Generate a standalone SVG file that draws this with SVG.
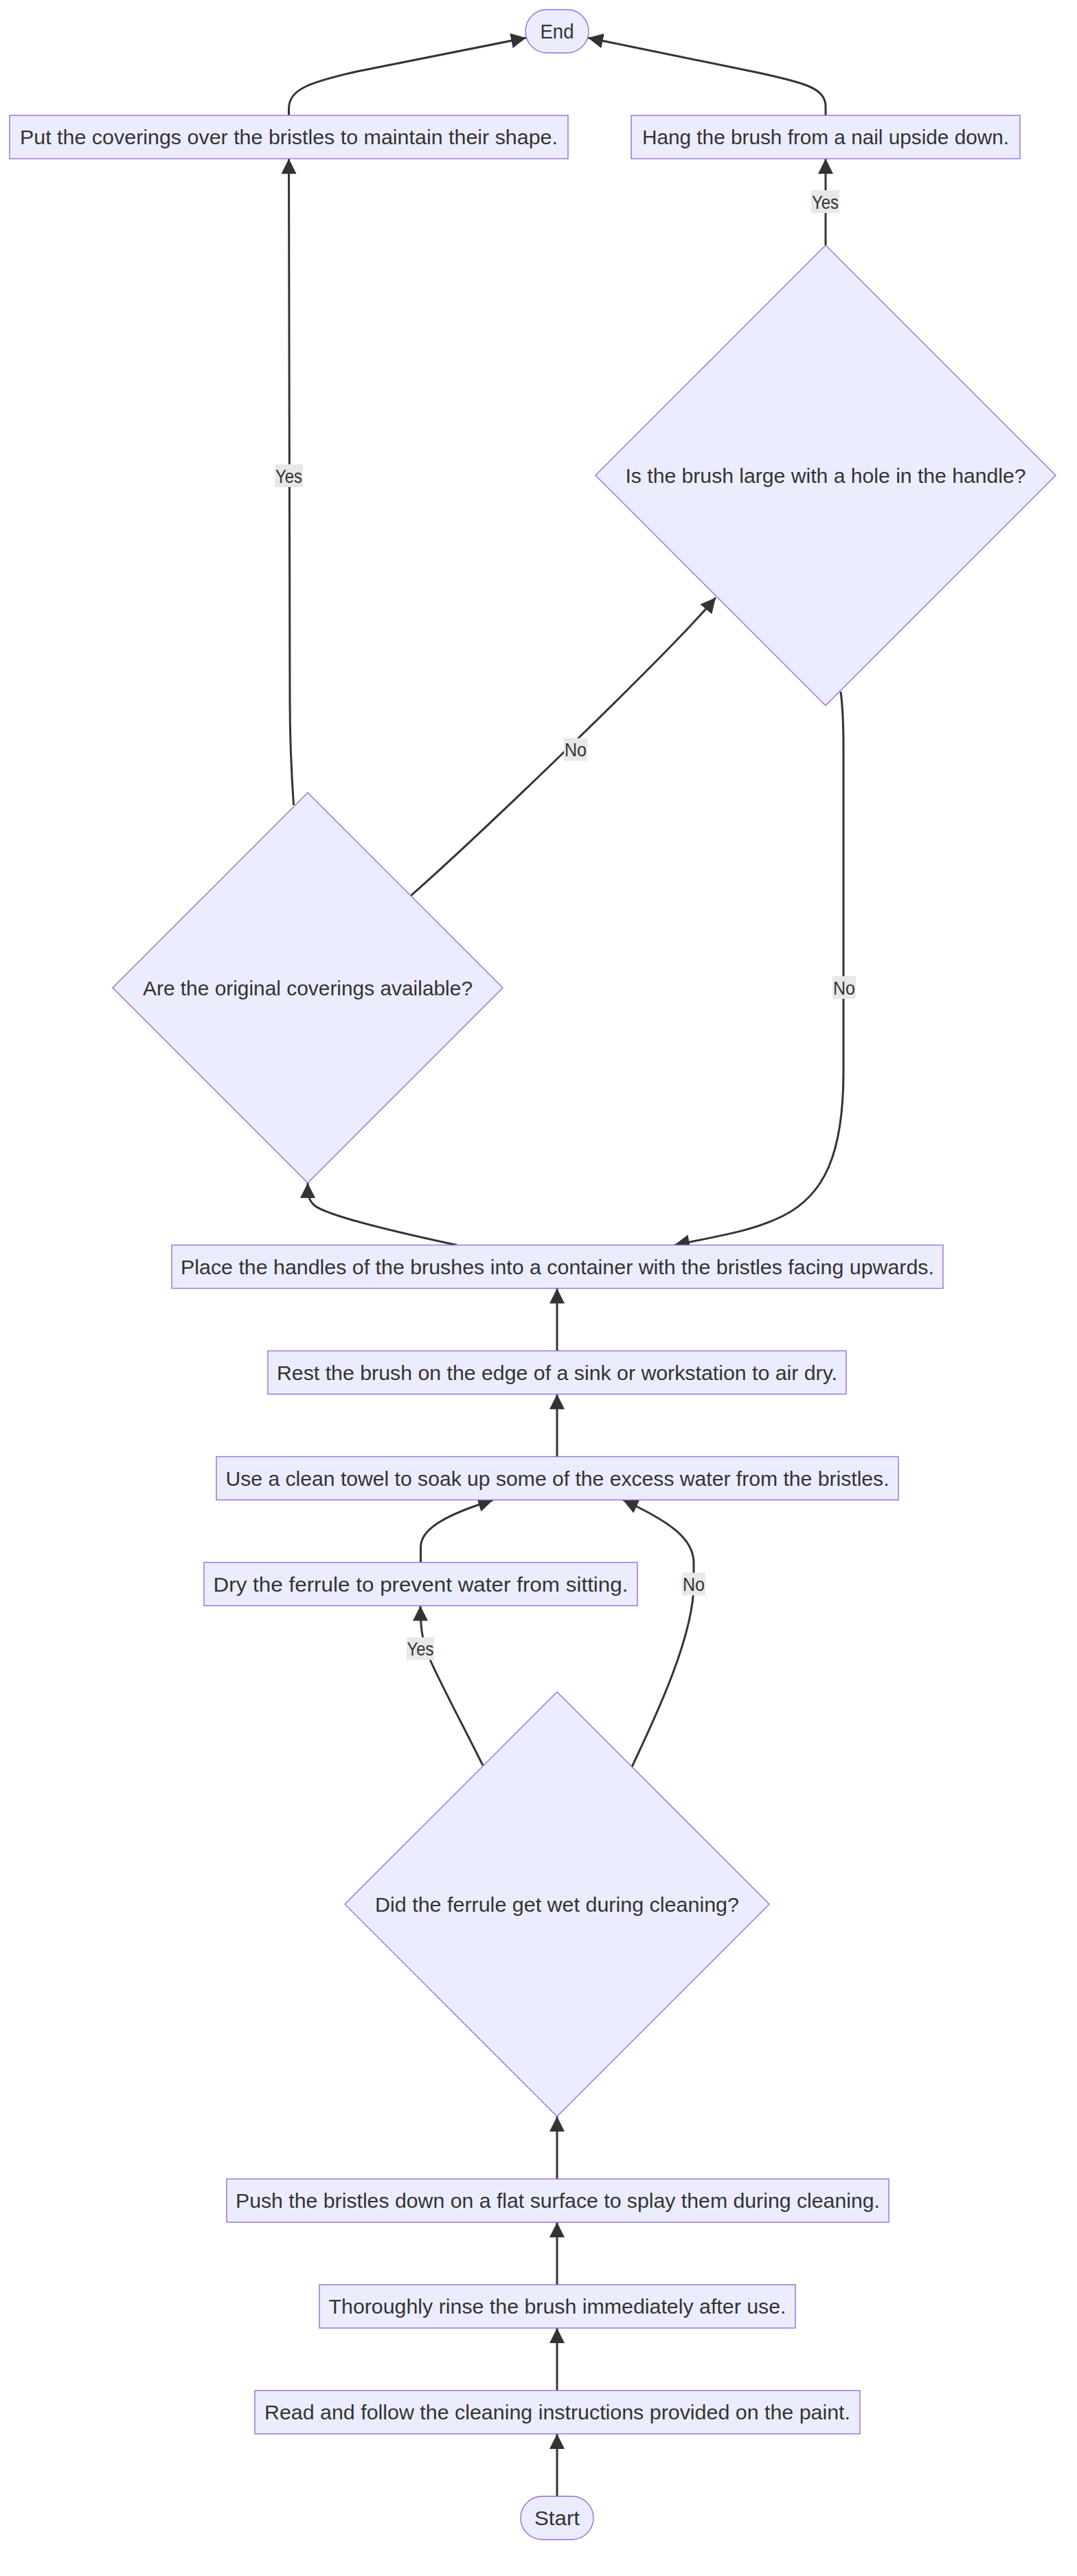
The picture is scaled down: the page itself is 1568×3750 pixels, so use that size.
<svg xmlns="http://www.w3.org/2000/svg" width="1568" height="3750" viewBox="0 0 1568 3750">
<defs>
<marker id="arrow" viewBox="0 0 10 10" refX="10" refY="5" markerUnits="userSpaceOnUse" markerWidth="22" markerHeight="22" orient="auto">
<path d="M0,0 L10,5 L0,10 z" fill="#333333"/>
</marker>
<style>
.node rect, .node polygon { fill: #ECECFF; stroke: #9370DB; stroke-width: 1.4; }
.node text { font-family: "Liberation Sans", Arial, sans-serif; font-size: 30px; fill: #333333; text-anchor: middle; }
.edge { fill: none; stroke: #333333; stroke-width: 3; marker-end: url(#arrow); }
.lbl rect { fill: #e8e8e8; }
.lbl text { font-family: "Liberation Sans", Arial, sans-serif; font-size: 28px; fill: #333333; text-anchor: middle; }
</style>
</defs>
<rect x="0" y="0" width="1568" height="3750" fill="#ffffff"/>

<g id="connectors">
<path class="edge" d="M420.5,168 L420.5,158 C420.5,130 450,120 520,104 L766,55"/>
<path class="edge" d="M1202,168 L1202,155 C1202,128 1170,120 1100,105 L856,55"/>
<path class="edge" d="M1202,357 L1202,231"/>
<path class="edge" d="M427.5,1172 C424,1120 422,1080 422,1020 L420.5,231"/>
<path class="edge" d="M598,1304 C700,1214 975,950 1042,870"/>
<path class="edge" d="M1224,1007 C1227,1030 1228,1050 1228,1090 L1228,1560 C1228,1680 1200,1740 1140,1770 C1100,1790 1060,1797 982,1812.5"/>
<path class="edge" d="M665,1812.5 C560,1790 475,1768 458,1755 C450,1748 448,1740 448,1722"/>
<path class="edge" d="M811,1966.5 L811,1875.5"/>
<path class="edge" d="M811,2120.5 L811,2029.5"/>
<path class="edge" d="M612.5,2274.5 L612.5,2252 C612.5,2225 650,2205 718,2183.5"/>
<path class="edge" d="M703,2570 C672,2508 642,2452 627,2418 C615,2390 612,2372 612,2337.5"/>
<path class="edge" d="M920,2572 C958,2492 1010,2380 1010,2306 L1010,2275 C1010,2240 975,2215 907,2183.5"/>
<path class="edge" d="M811,3172 L811,3081"/>
<path class="edge" d="M811,3326 L811,3235"/>
<path class="edge" d="M811,3480 L811,3389"/>
<path class="edge" d="M811,3634 L811,3543"/>

<g class="lbl"><rect x="1181" y="277" width="41" height="33"/><text x="1201.5" y="303.5" textLength="39" lengthAdjust="spacingAndGlyphs">Yes</text></g>
<g class="lbl"><rect x="400" y="676" width="41" height="33"/><text x="420.5" y="702.5" textLength="39" lengthAdjust="spacingAndGlyphs">Yes</text></g>
<g class="lbl"><rect x="821" y="1074.5" width="34" height="33"/><text x="838" y="1101" textLength="32" lengthAdjust="spacingAndGlyphs">No</text></g>
<g class="lbl"><rect x="1212" y="1421" width="34" height="33"/><text x="1229" y="1447.5" textLength="32" lengthAdjust="spacingAndGlyphs">No</text></g>
<g class="lbl"><rect x="993" y="2289.5" width="34" height="33"/><text x="1010" y="2316" textLength="32" lengthAdjust="spacingAndGlyphs">No</text></g>
<g class="lbl"><rect x="592" y="2383.5" width="40" height="33"/><text x="612" y="2410" textLength="39" lengthAdjust="spacingAndGlyphs">Yes</text></g>
</g>

<g id="end" class="node"><rect x="765" y="14" width="92" height="63" rx="31.5" ry="31.5"/><text x="811" y="56" textLength="49" lengthAdjust="spacingAndGlyphs">End</text></g>
<g id="put" class="node"><rect x="14" y="168" width="813" height="63"/><text x="420.5" y="210" textLength="783" lengthAdjust="spacingAndGlyphs">Put the coverings over the bristles to maintain their shape.</text></g>
<g id="hang" class="node"><rect x="919" y="168" width="566" height="63"/><text x="1202" y="210" textLength="534" lengthAdjust="spacingAndGlyphs">Hang the brush from a nail upside down.</text></g>
<g id="isLarge" class="node"><polygon points="1202,357 1537,692 1202,1027 867,692"/><text x="1202" y="702.5" textLength="583" lengthAdjust="spacingAndGlyphs">Is the brush large with a hole in the handle?</text></g>
<g id="coverings" class="node"><polygon points="448,1154 732,1438 448,1722 164,1438"/><text x="448" y="1448.5" textLength="480" lengthAdjust="spacingAndGlyphs">Are the original coverings available?</text></g>
<g id="place" class="node"><rect x="250" y="1812.5" width="1123" height="63"/><text x="811.5" y="1854.5" textLength="1097" lengthAdjust="spacingAndGlyphs">Place the handles of the brushes into a container with the bristles facing upwards.</text></g>
<g id="rest" class="node"><rect x="390" y="1966.5" width="842" height="63"/><text x="811" y="2008.5" textLength="816" lengthAdjust="spacingAndGlyphs">Rest the brush on the edge of a sink or workstation to air dry.</text></g>
<g id="towel" class="node"><rect x="315" y="2120.5" width="993" height="63"/><text x="811.5" y="2162.5" textLength="966" lengthAdjust="spacingAndGlyphs">Use a clean towel to soak up some of the excess water from the bristles.</text></g>
<g id="dry" class="node"><rect x="297" y="2274.5" width="631" height="63"/><text x="612.5" y="2316.5" textLength="604" lengthAdjust="spacingAndGlyphs">Dry the ferrule to prevent water from sitting.</text></g>
<g id="wet" class="node"><polygon points="811,2463 1120,2772 811,3081 502,2772"/><text x="811" y="2782.5" textLength="530" lengthAdjust="spacingAndGlyphs">Did the ferrule get wet during cleaning?</text></g>
<g id="push" class="node"><rect x="330" y="3172" width="964" height="63"/><text x="812" y="3214" textLength="938" lengthAdjust="spacingAndGlyphs">Push the bristles down on a flat surface to splay them during cleaning.</text></g>
<g id="rinse" class="node"><rect x="465" y="3326" width="693" height="63"/><text x="811.5" y="3368" textLength="666" lengthAdjust="spacingAndGlyphs">Thoroughly rinse the brush immediately after use.</text></g>
<g id="read" class="node"><rect x="371" y="3480" width="881" height="63"/><text x="811.5" y="3522" textLength="853" lengthAdjust="spacingAndGlyphs">Read and follow the cleaning instructions provided on the paint.</text></g>
<g id="start" class="node"><rect x="758" y="3634" width="106" height="63" rx="31.5" ry="31.5"/><text x="811" y="3676" textLength="66" lengthAdjust="spacingAndGlyphs">Start</text></g>
</svg>
